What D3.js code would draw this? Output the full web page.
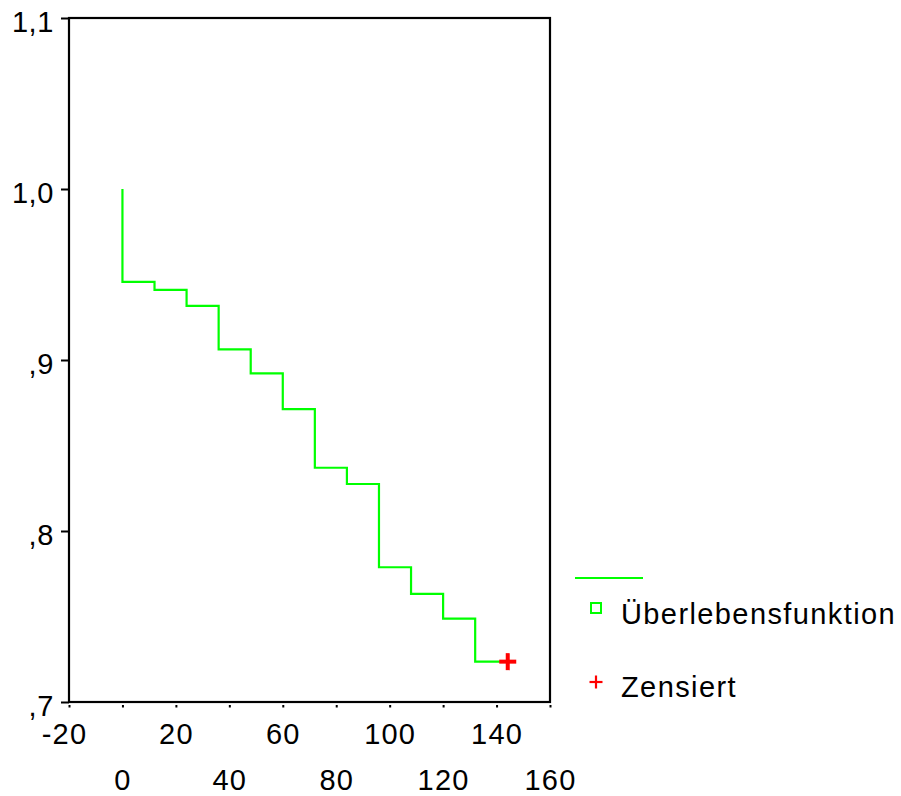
<!DOCTYPE html>
<html>
<head>
<meta charset="utf-8">
<script src="https://cdn.jsdelivr.net/npm/d3@7"></script>
<style>
  html, body { margin: 0; padding: 0; background: #fff; }
  text { font-family: "Liberation Sans", Arial, sans-serif; }
</style>
</head>
<body>
<svg id="chart" width="901" height="796"></svg>
<script>
// ---- data ----
const startTime = 0;
const startSurvival = 1.0;
const eventTimes = [0, 12, 24, 36, 48, 60, 72, 84, 96, 108, 120, 132];
const survivalValues = [0.9457, 0.941, 0.9316, 0.9062, 0.8922, 0.8713, 0.837, 0.8275, 0.7788, 0.7632, 0.7487, 0.7236];
const censoredTimes = [144];
const censoredValues = [0.7236];
const xTickValues = [-20, 0, 20, 40, 60, 80, 100, 120, 140, 160];
const yTickValues = [0.7, 0.8, 0.9, 1.0, 1.1];
const legendLabels = ["Überlebensfunktion", "Zensiert"];

const svg = d3.select("#chart");
const x = d3.scaleLinear().domain([-20, 160]).range([69, 550]);
const y = d3.scaleLinear().domain([0.7, 1.1]).range([702, 18]);

const fontSize = 29;

// frame
svg.append("rect")
  .attr("x", x(-20)).attr("y", y(1.1))
  .attr("width", x(160) - x(-20)).attr("height", y(0.7) - y(1.1))
  .attr("fill", "none").attr("stroke", "#000").attr("stroke-width", 2.2);

// y axis
const yAxis = d3.axisLeft(y).tickValues(yTickValues).tickSize(8).tickPadding(7)
  .tickFormat(d => d3.format(".1f")(d).replace(".", ",").replace(/^0/, ""));
const gy = svg.append("g").attr("transform", `translate(${x(-20)},0)`).call(yAxis);
gy.select(".domain").remove();
gy.selectAll(".tick line").attr("stroke", "#000").attr("stroke-width", 2);
gy.selectAll(".tick text")
  .attr("font-size", fontSize).attr("fill", "#000")
  .attr("letter-spacing", "0.6px")
  .attr("dy", "0.47em");

// x axis
const xAxis = d3.axisBottom(x).tickValues(xTickValues).tickSize(0).tickFormat(d => d);
const gx = svg.append("g").attr("transform", `translate(0,${y(0.7)})`).call(xAxis);
gx.select(".domain").remove();
gx.selectAll(".tick line").remove();
gx.selectAll(".tick").append("rect")
  .attr("x", -1).attr("y", 3).attr("width", 2).attr("height", 2.5).attr("fill", "#000");
gx.selectAll(".tick text")
  .attr("font-size", fontSize).attr("fill", "#000")
  .attr("letter-spacing", "1.2px")
  .attr("dy", null)
  .attr("dx", d => d < 0 ? -5 : 0)
  .attr("y", (d, i) => i % 2 === 0 ? 42 : 88);

// survival step line
const pts = [[startTime, startSurvival]]
  .concat(eventTimes.map((t, i) => [t, survivalValues[i]]))
  .concat(censoredTimes.map((t, i) => [t, censoredValues[i]]));
const line = d3.line().x(d => x(d[0])).y(d => y(d[1])).curve(d3.curveStepAfter);
svg.append("path").datum(pts)
  .attr("d", line)
  .attr("fill", "none").attr("stroke", "#00ff00").attr("stroke-width", 2.2);

// censor marks
const plus = (g, cx, cy, r, w) => {
  g.append("line").attr("x1", cx - r).attr("x2", cx + r).attr("y1", cy).attr("y2", cy)
    .attr("stroke", "#ff0000").attr("stroke-width", w);
  g.append("line").attr("x1", cx).attr("x2", cx).attr("y1", cy - r).attr("y2", cy + r)
    .attr("stroke", "#ff0000").attr("stroke-width", w);
};
const gc = svg.append("g");
censoredTimes.forEach((t, i) => plus(gc, x(t) + 0.5, y(censoredValues[i]), 8.5, 4));

// legend
const lg = svg.append("g");
lg.append("line").attr("x1", 575).attr("x2", 643).attr("y1", 578).attr("y2", 578)
  .attr("stroke", "#00ff00").attr("stroke-width", 2.2);
lg.append("rect").attr("x", 591).attr("y", 603).attr("width", 10).attr("height", 10)
  .attr("fill", "none").attr("stroke", "#00ff00").attr("stroke-width", 2);
lg.append("text").attr("x", 621).attr("y", 624).attr("font-size", fontSize)
  .attr("letter-spacing", "1.4px").attr("fill", "#000").text(legendLabels[0]);
plus(lg, 596, 682, 6.5, 2.2);
lg.append("text").attr("x", 621).attr("y", 697).attr("font-size", fontSize)
  .attr("letter-spacing", "1.4px").attr("fill", "#000").text(legendLabels[1]);
</script>
</body>
</html>
